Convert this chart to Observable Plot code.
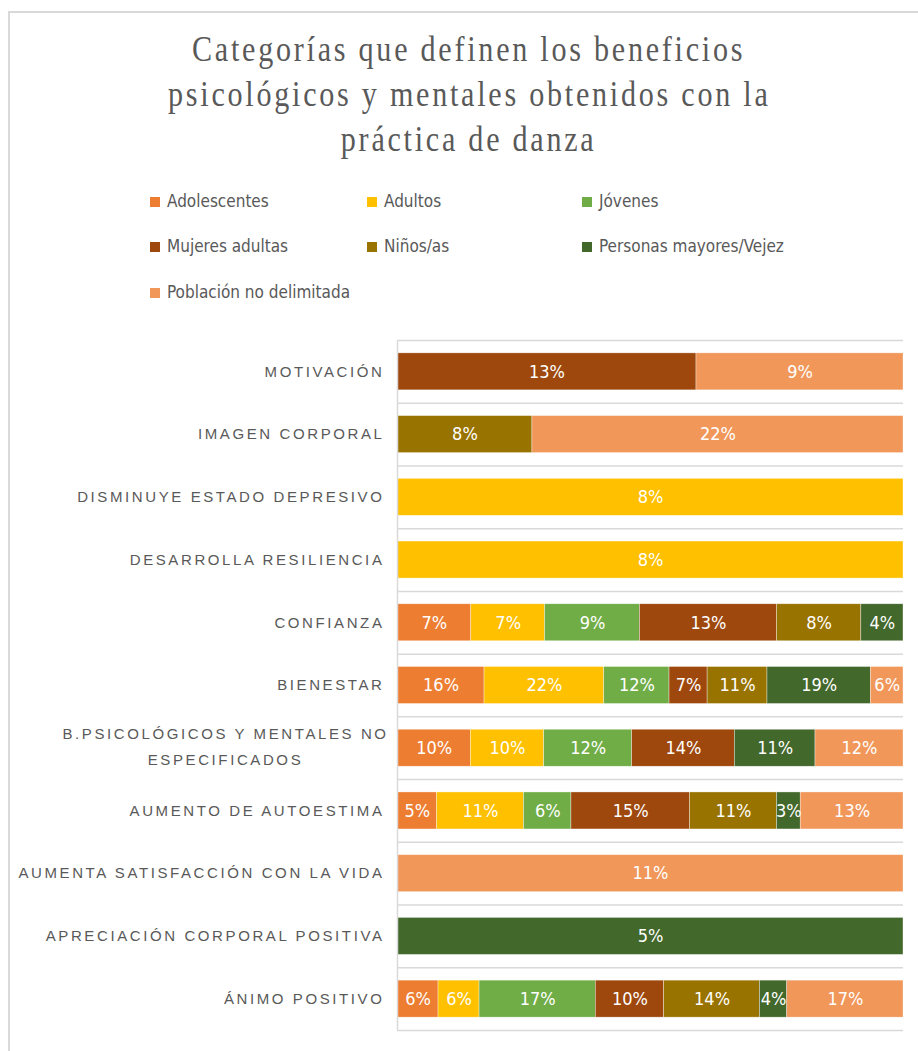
<!DOCTYPE html>
<html>
<head>
<meta charset="utf-8">
<script src="https://cdn.jsdelivr.net/npm/d3@7"></script>
<script src="https://cdn.jsdelivr.net/npm/@observablehq/plot@0.6"></script>
<style>
  html, body { margin: 0; padding: 0; background: #fff; }
  body { width: 918px; height: 1051px; position: relative; overflow: hidden; }
  #frame { position: absolute; left: 8px; top: 11px; width: 1000px; height: 1100px;
           border-left: 2px solid #d9d9d9; border-top: 2px solid #d9d9d9; box-sizing: border-box; }
  #title { position: absolute; left: 10px; top: 27px; width: 918px; text-align: center;
           font-family: "Liberation Serif", "Times New Roman", serif; font-size: 35px; line-height: 45px;
           color: #595959; letter-spacing: 3.2px; }
  #title span { display: inline-block; transform: scaleX(0.86); transform-origin: center; white-space: nowrap; }
  .leg { position: absolute; font-family: "Liberation Sans Narrow", "DejaVu Sans Condensed", sans-serif;
         font-size: 17px; color: #595959; white-space: nowrap; line-height: 20px; }
  .leg i { display: inline-block; width: 10px; height: 10px; margin-right: 7px; vertical-align: -0px; }
  #chart { position: absolute; left: 0; top: 320px; }
</style>
</head>
<body>
<div id="frame"></div>
<div id="title"></div>
<div id="legend"></div>
<div id="chart"></div>
<script>
const titleLines = [
  "Categorías que definen los beneficios",
  "psicológicos y mentales obtenidos con la",
  "práctica de danza"
];

const categories = [
  "MOTIVACIÓN",
  "IMAGEN CORPORAL",
  "DISMINUYE ESTADO DEPRESIVO",
  "DESARROLLA RESILIENCIA",
  "CONFIANZA",
  "BIENESTAR",
  "B.PSICOLÓGICOS Y MENTALES NO\nESPECIFICADOS",
  "AUMENTO DE AUTOESTIMA",
  "AUMENTA SATISFACCIÓN CON LA VIDA",
  "APRECIACIÓN CORPORAL POSITIVA",
  "ÁNIMO POSITIVO"
];

const groups = [
  "Adolescentes",
  "Adultos",
  "Jóvenes",
  "Mujeres adultas",
  "Niños/as",
  "Personas mayores/Vejez",
  "Población no delimitada"
];

const colors = ["#ED7D31", "#FFC000", "#70AD47", "#9E480E", "#997300", "#43682B", "#F1975A"];

// values (%) per group, aligned with categories; null = not present
const adolescentes   = [null, null, null, null, 7, 16, 10, 5, null, null, 6];
const adultos        = [null, null, 8, 8, 7, 22, 10, 11, null, null, 6];
const jovenes        = [null, null, null, null, 9, 12, 12, 6, null, null, 17];
const mujeresAdultas = [13, null, null, null, 13, 7, 14, 15, null, null, 10];
const ninos          = [null, 8, null, null, 8, 11, null, 11, null, null, 14];
const mayores        = [null, null, null, null, 4, 19, 11, 3, null, 5, 4];
const poblacion      = [9, 22, null, null, null, 6, 12, 13, 11, null, 17];

const seriesValues = [adolescentes, adultos, jovenes, mujeresAdultas, ninos, mayores, poblacion];

const rows = [];
groups.forEach((g, gi) => {
  seriesValues[gi].forEach((v, ci) => {
    if (v != null) rows.push({group: g, category: categories[ci], value: v});
  });
});

// Title
document.getElementById("title").innerHTML = titleLines.map(t => `<span>${t}</span>`).join("<br>");

// Legend
const legCols = [150, 367, 582];
const legRows = [191, 236, 282];
const legend = document.getElementById("legend");
groups.forEach((g, i) => {
  const d = document.createElement("div");
  d.className = "leg";
  d.style.left = legCols[i % 3] + "px";
  d.style.top = legRows[Math.floor(i / 3)] + "px";
  d.innerHTML = `<i style="background:${colors[i]}"></i>${g}`;
  legend.appendChild(d);
});

const W = 918, H = 731, mT = 20, mB = 21, mL = 397, mR = 15;
const step = (H - mT - mB) / categories.length;
const isMulti = d => d.includes("\n");

const chart = Plot.plot({
  width: W, height: H,
  marginLeft: mL, marginRight: mR, marginTop: mT, marginBottom: mB,
  style: {fontFamily: "Liberation Sans, Arial, sans-serif", fontSize: "15px", background: "transparent"},
  x: {axis: null, domain: [0, 1]},
  y: {domain: categories, paddingInner: 0.41, paddingOuter: 0.205, round: false, label: null},
  color: {domain: groups, range: colors},
  marks: [
    Plot.ruleY(categories, {y: d => d, dy: -step / 2, stroke: "#d9d9d9", strokeWidth: 1.5}),
    Plot.ruleY([categories[categories.length - 1]], {y: d => d, dy: step / 2, stroke: "#d9d9d9", strokeWidth: 1.5}),
    Plot.barX(rows, Plot.stackX({
      x: "value", y: "category", fill: "group", order: groups, offset: "normalize",
      stroke: "white", strokeWidth: 0.6, strokeOpacity: 0.6
    })),
    Plot.ruleX([0], {stroke: "#d9d9d9", strokeWidth: 1.5}),
    Plot.text(rows, Plot.stackX({
      x: "value", y: "category", z: "group", order: groups, offset: "normalize",
      text: d => d.value + "%", fill: "white",
      fontFamily: "Liberation Sans Narrow, DejaVu Sans Condensed, sans-serif", fontSize: 18
    })),
    Plot.axisY({
      tickSize: 0, tickPadding: 13, fill: "#595959",
      tickFormat: d => isMulti(d) ? "" : d
    }),
    Plot.text(categories.filter(isMulti), {
      y: d => d, text: d => d, frameAnchor: "left", textAnchor: "middle",
      dx: -(397 - 225), dy: -5, lineHeight: 1.75, fill: "#595959"
    })
  ]
});

d3.select(chart).selectAll("text")
  .filter(function() { return !this.textContent.includes("%"); })
  .style("letter-spacing", "2.6px");

document.getElementById("chart").appendChild(chart);
</script>
</body>
</html>
